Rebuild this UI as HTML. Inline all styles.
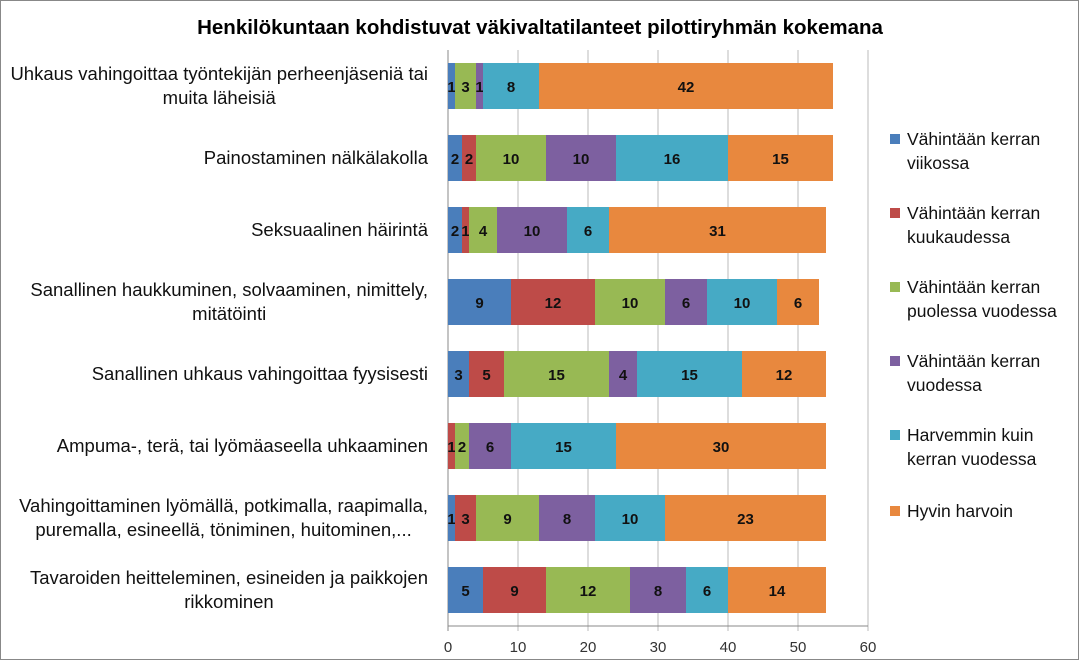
<!DOCTYPE html>
<html><head><meta charset="utf-8"><style>
body{margin:0;background:#fff;font-family:"Liberation Sans",sans-serif}
</style></head><body>
<svg width="1079" height="660" xmlns="http://www.w3.org/2000/svg" font-family="Liberation Sans, sans-serif">
<rect x="0.5" y="0.5" width="1078" height="659" fill="#fff" stroke="#888"/>
<text x="540" y="34" text-anchor="middle" font-size="20.5" font-weight="bold" fill="#000">Henkilökuntaan kohdistuvat väkivaltatilanteet pilottiryhmän kokemana</text>
<g id="grid"></g><g id="bars"></g><g id="cats"></g><g id="ticks"></g><g id="legend"></g>
</svg>
<script>
const categories=[
 ["Uhkaus vahingoittaa työntekijän perheenjäseniä tai","muita läheisiä"],
 ["Painostaminen nälkälakolla"],
 ["Seksuaalinen häirintä"],
 ["Sanallinen haukkuminen, solvaaminen, nimittely,","mitätöinti"],
 ["Sanallinen uhkaus vahingoittaa fyysisesti"],
 ["Ampuma-, terä, tai lyömäaseella uhkaaminen"],
 ["Vahingoittaminen lyömällä, potkimalla, raapimalla,","puremalla, esineellä, töniminen, huitominen,..."],
 ["Tavaroiden heitteleminen, esineiden ja paikkojen","rikkominen"]];
const seriesNames=[["Vähintään kerran","viikossa"],["Vähintään kerran","kuukaudessa"],["Vähintään kerran","puolessa vuodessa"],["Vähintään kerran","vuodessa"],["Harvemmin kuin","kerran vuodessa"],["Hyvin harvoin"]];
const weekly=[1,2,2,9,3,0,1,5];
const monthly=[0,2,1,12,5,1,3,9];
const halfYear=[3,10,4,10,15,2,9,12];
const yearly=[1,10,10,6,4,6,8,8];
const rarer=[8,16,6,10,15,15,10,6];
const veryRare=[42,15,31,6,12,30,23,14];
const tickLabels=[0,10,20,30,40,50,60];
const colors=["#4a7ebb","#be4b48","#98b954","#7d60a0","#46aac5","#e8883e"];
const series=[weekly,monthly,halfYear,yearly,rarer,veryRare];
const NS="http://www.w3.org/2000/svg";
const x0=448,x1=868,plotTop=50,plotBottom=626,band=(plotBottom-plotTop)/categories.length,bh=46;
const xs=v=>x0+(x1-x0)*v/60;
const yc=i=>plotTop+band*(i+0.5);
function mk(tag,attrs,parent){const e=document.createElementNS(NS,tag);for(const k in attrs)e.setAttribute(k,attrs[k]);document.getElementById(parent).appendChild(e);return e;}
tickLabels.forEach(t=>{
 const l=mk('line',{x1:xs(t),x2:xs(t),y1:plotTop,y2:plotBottom+5,stroke:t===0?'#888':'#bbb'},'grid');
 
 
 const tx=mk('text',{x:xs(t),y:652,'text-anchor':'middle','font-size':15,fill:'#333'},'ticks');
 tx.textContent=t;
 
 
});
const ax=mk('line',{x1:x0,x2:x1,y1:plotBottom,y2:plotBottom,stroke:'#888'},'grid');


categories.forEach((c,i)=>{
 let acc=0;
 series.forEach((s,j)=>{
  const v=s[i];
  if(v>0){
   const r=mk('rect',{x:xs(acc),y:yc(i)-bh/2,width:xs(acc+v)-xs(acc),height:bh,fill:colors[j]},'bars');
   
   
   const t=mk('text',{x:(xs(acc)+xs(acc+v))/2,y:yc(i)+6,'text-anchor':'middle','font-size':15,'font-weight':'bold',fill:'#111'},'bars');
   t.textContent=v;
   
   
  }
  acc+=v;
 });
 const n=c.length;
 const els=c.map((line,k)=>{
  const t=mk('text',{x:428,y:yc(i)+6+(k-(n-1)/2)*24,'text-anchor':'middle','font-size':18.5,fill:'#111'},'cats');
  t.textContent=line;
  
  
  return t;
 });
 const w=Math.max(...els.map(e=>e.getComputedTextLength()));
 els.forEach(e=>e.setAttribute('x',428-w/2));
});
const legY=[139,213,287,361,435,511];
seriesNames.forEach((nm,j)=>{
 const y=legY[j];
 const r=mk('rect',{x:890,y:y-5,width:10,height:10,fill:colors[j]},'legend');
 
 
 nm.forEach((line,k)=>{
  const t=mk('text',{x:907,y:y+6+k*24,'font-size':17.5,fill:'#111'},'legend');
  t.textContent=line;
  
  
 });
});
</script>
</body></html>
